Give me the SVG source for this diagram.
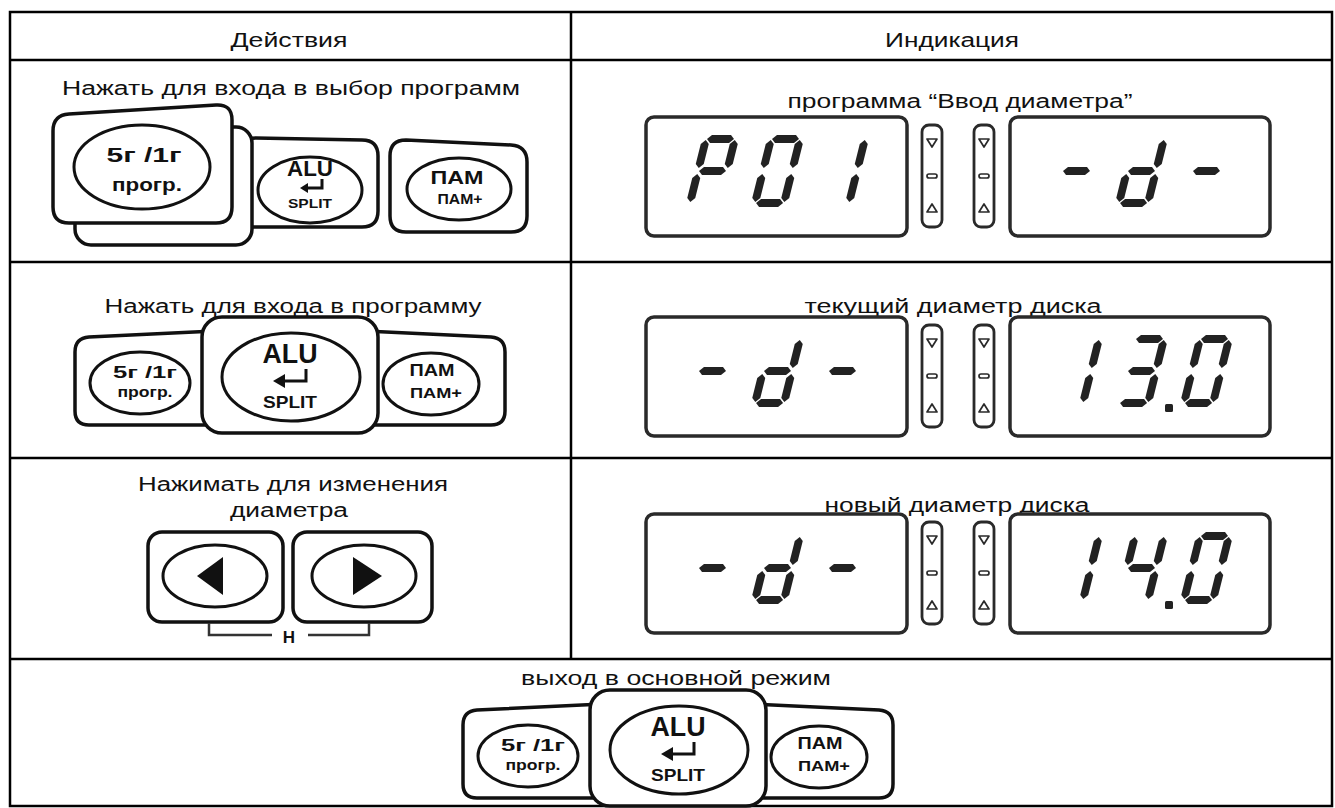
<svg xmlns="http://www.w3.org/2000/svg" width="1335" height="808" viewBox="0 0 1335 808">
<style>
.grid{fill:none;stroke:#000;stroke-width:2.5}
.bt{fill:#fff;stroke:#111;stroke-width:3.5;stroke-linejoin:round}
.el{fill:#fff;stroke:#111;stroke-width:3}
.bl{font-family:"Liberation Sans",Arial,sans-serif;font-weight:bold;fill:#111;text-anchor:middle}
.tx{font-family:"Liberation Sans",Arial,sans-serif;font-size:20px;fill:#111;text-anchor:middle}
.lcd{fill:#fff;stroke:#2a2a2a;stroke-width:3.5}
.seg{fill:#222}
.ind{fill:#fff;stroke:#2a2a2a;stroke-width:2.8}
.tri{fill:none;stroke:#2a2a2a;stroke-width:1.7;stroke-linejoin:round}
.arr{fill:none;stroke:#111;stroke-width:3}
.brk{fill:none;stroke:#333;stroke-width:2.5}
</style>
<defs>
<polygon id="sa" points="5,4 9,0 28,0 32,4 28,8 9,8"/>
<polygon id="sg" points="5,36 9,32 28,32 32,36 28,40 9,40"/>
<polygon id="sd" points="5,68 9,64 28,64 32,68 28,72 9,72"/>
<polygon id="sf" points="4,5 8,9 8,29 4,33 0,29 0,9"/>
<polygon id="se" points="4,39 8,43 8,63 4,67 0,63 0,43"/>
<polygon id="sb" points="33,5 37,9 37,29 33,33 29,29 29,9"/>
<polygon id="sc" points="33,39 37,43 37,63 33,67 29,63 29,43"/>
<g id="dP" class="seg"><use href="#sa"/><use href="#sb"/><use href="#sf"/><use href="#sg"/><use href="#se"/></g>
<g id="d0" class="seg"><use href="#sa"/><use href="#sb"/><use href="#sc"/><use href="#sd"/><use href="#se"/><use href="#sf"/></g>
<g id="d1" class="seg"><use href="#sb"/><use href="#sc"/></g>
<g id="dd" class="seg"><use href="#sb"/><use href="#sc"/><use href="#sd"/><use href="#se"/><use href="#sg"/></g>
<g id="dm" class="seg"><use href="#sg"/></g>
<g id="d3" class="seg"><use href="#sa"/><use href="#sb"/><use href="#sc"/><use href="#sd"/><use href="#sg"/></g>
<g id="d4" class="seg"><use href="#sf"/><use href="#sg"/><use href="#sb"/><use href="#sc"/></g>
<g id="indic">
<rect class="ind" x="0" y="0" width="20" height="102" rx="7"/>
<polygon class="tri" points="5,14 15,14 10,22"/>
<rect x="5" y="49" width="10" height="4" rx="2" fill="none" stroke="#2a2a2a" stroke-width="1.7"/>
<polygon class="tri" points="10,79 5,87 15,87"/>
</g>
</defs>
<rect width="1335" height="808" fill="#fff"/>

<g id="table">
<rect class="grid" x="10" y="12" width="1322" height="794"/>
<line class="grid" x1="10" y1="60" x2="1332" y2="60"/>
<line class="grid" x1="10" y1="262" x2="1332" y2="262"/>
<line class="grid" x1="10" y1="458" x2="1332" y2="458"/>
<line class="grid" x1="10" y1="659" x2="1332" y2="659"/>
<line class="grid" x1="571" y1="12" x2="571" y2="659"/>
<text class="tx" x="289" y="47" textLength="117" lengthAdjust="spacingAndGlyphs">Действия</text>
<text class="tx" x="952" y="47" textLength="134" lengthAdjust="spacingAndGlyphs">Индикация</text>
<text class="tx" x="291" y="95" textLength="458" lengthAdjust="spacingAndGlyphs">Нажать для входа в выбор программ</text>
<text class="tx" x="960" y="108" textLength="345" lengthAdjust="spacingAndGlyphs">программа “Ввод диаметра”</text>
<text class="tx" x="293" y="313" textLength="377" lengthAdjust="spacingAndGlyphs">Нажать для входа в программу</text>
<text class="tx" x="953" y="313" textLength="297" lengthAdjust="spacingAndGlyphs">текущий диаметр диска</text>
<text class="tx" x="293" y="491" textLength="310" lengthAdjust="spacingAndGlyphs">Нажимать для изменения</text>
<text class="tx" x="289" y="517" textLength="118" lengthAdjust="spacingAndGlyphs">диаметра</text>
<text class="tx" x="957" y="512" textLength="265" lengthAdjust="spacingAndGlyphs">новый диаметр диска</text>
<text class="tx" x="676" y="685" textLength="310" lengthAdjust="spacingAndGlyphs">выход в основной режим</text>
</g>

<g id="keys1">
<path class="bt" d="M240,154 Q240,138 256,138 L362,140 Q378,140 378,156 V211 Q378,227 362,227 H240 Z"/>
<ellipse class="el" cx="310" cy="190" rx="52" ry="33"/>
<text class="bl" x="310" y="176" font-size="22" textLength="46" lengthAdjust="spacingAndGlyphs">ALU</text>
<path class="arr" d="M322,179 V188 H307"/>
<polygon points="300,188 308,183 308,193" fill="#111"/>
<text class="bl" x="310" y="208" font-size="13" textLength="44" lengthAdjust="spacingAndGlyphs">SPLIT</text>
<path class="bt" d="M390,156 Q390,140 406,140 L511,145 Q527,146 527,162 V216 Q527,232 511,232 H406 Q390,232 390,216 Z"/>
<ellipse class="el" cx="459" cy="189" rx="52" ry="31"/>
<text class="bl" x="457" y="184" font-size="19" textLength="53" lengthAdjust="spacingAndGlyphs">ПАМ</text>
<text class="bl" x="460" y="204" font-size="14.5" textLength="45" lengthAdjust="spacingAndGlyphs">ПАМ+</text>
<rect class="bt" x="75" y="127" width="177" height="118" rx="16"/>
<path class="bt" d="M53,131 Q53,115 69,114 L216,105 Q232,104 232,120 V207 Q232,223 216,223 H69 Q53,223 53,207 Z"/>
<ellipse class="el" cx="142" cy="167" rx="68" ry="42"/>
<text class="bl" x="144" y="162" font-size="21" textLength="75" lengthAdjust="spacingAndGlyphs">5г /1г</text>
<text class="bl" x="147" y="191" font-size="19" textLength="70" lengthAdjust="spacingAndGlyphs">прогр.</text>
</g>

<g id="keys2">
<path class="bt" d="M75,352 Q75,338 89,337 L215,331 V425 H89 Q75,425 75,411 Z"/>
<ellipse class="el" cx="140" cy="383" rx="50" ry="31"/>
<text class="bl" x="145" y="378" font-size="17" textLength="64" lengthAdjust="spacingAndGlyphs">5г /1г</text>
<text class="bl" x="145" y="397" font-size="14" textLength="55" lengthAdjust="spacingAndGlyphs">прогр.</text>
<path class="bt" d="M365,331 L491,337 Q505,338 505,352 V411 Q505,425 491,425 H365 Z"/>
<ellipse class="el" cx="431" cy="384" rx="48" ry="31"/>
<text class="bl" x="432" y="376" font-size="17" textLength="45" lengthAdjust="spacingAndGlyphs">ПАМ</text>
<text class="bl" x="436" y="398" font-size="14" textLength="52" lengthAdjust="spacingAndGlyphs">ПАМ+</text>
<rect class="bt" x="202" y="317" width="176" height="116" rx="20" stroke-width="4"/>
<ellipse class="el" cx="291" cy="377" rx="69" ry="44" stroke-width="3.5"/>
<text class="bl" x="290" y="363" font-size="28" textLength="55" lengthAdjust="spacingAndGlyphs">ALU</text>
<path class="arr" d="M306,369 V381 H283" stroke-width="4"/>
<polygon points="273,381 285,374 285,388" fill="#111"/>
<text class="bl" x="290" y="408" font-size="17" textLength="54" lengthAdjust="spacingAndGlyphs">SPLIT</text>
</g>

<g id="keys3">
<rect class="bt" x="148" y="532" width="135" height="90" rx="14"/>
<ellipse class="el" cx="215" cy="576" rx="52" ry="31"/>
<polygon points="197,576 223,557 223,595" fill="#111"/>
<rect class="bt" x="293" y="532" width="139" height="90" rx="14"/>
<ellipse class="el" cx="364" cy="576" rx="52" ry="31"/>
<polygon points="353,557 353,595 382,576" fill="#111"/>
</g>

<g id="connectors">
<path class="brk" d="M209,623 V635 H272 M308,635 H369 V623"/>
<text class="bl" x="289" y="643" font-size="17" fill="#333">H</text>
</g>

<g id="keys4" transform="translate(388,373)">
<path class="bt" d="M75,352 Q75,338 89,337 L215,331 V425 H89 Q75,425 75,411 Z"/>
<ellipse class="el" cx="140" cy="383" rx="50" ry="31"/>
<text class="bl" x="145" y="378" font-size="17" textLength="64" lengthAdjust="spacingAndGlyphs">5г /1г</text>
<text class="bl" x="145" y="397" font-size="14" textLength="55" lengthAdjust="spacingAndGlyphs">прогр.</text>
<path class="bt" d="M365,331 L491,337 Q505,338 505,352 V411 Q505,425 491,425 H365 Z"/>
<ellipse class="el" cx="431" cy="384" rx="48" ry="31"/>
<text class="bl" x="432" y="376" font-size="17" textLength="45" lengthAdjust="spacingAndGlyphs">ПАМ</text>
<text class="bl" x="436" y="398" font-size="14" textLength="52" lengthAdjust="spacingAndGlyphs">ПАМ+</text>
<rect class="bt" x="202" y="317" width="176" height="116" rx="20" stroke-width="4"/>
<ellipse class="el" cx="291" cy="377" rx="69" ry="44" stroke-width="3.5"/>
<text class="bl" x="290" y="363" font-size="28" textLength="55" lengthAdjust="spacingAndGlyphs">ALU</text>
<path class="arr" d="M306,369 V381 H283" stroke-width="4"/>
<polygon points="273,381 285,374 285,388" fill="#111"/>
<text class="bl" x="290" y="408" font-size="17" textLength="54" lengthAdjust="spacingAndGlyphs">SPLIT</text>
</g>

<g id="display1">
<rect class="lcd" x="646" y="117" width="261" height="119" rx="8"/>
<use href="#dP" transform="translate(703,135) skewX(-14)"/>
<use href="#d0" transform="translate(768,135) skewX(-14)"/>
<use href="#d1" transform="translate(833,135) skewX(-14)"/>
<use href="#indic" x="922" y="125"/>
<use href="#indic" x="974" y="125"/>
<rect class="lcd" x="1010" y="117" width="260" height="119" rx="8"/>
<use href="#dm" transform="translate(1067,135) skewX(-14)"/>
<use href="#dd" transform="translate(1132,135) skewX(-14)"/>
<use href="#dm" transform="translate(1197,135) skewX(-14)"/>
</g>

<g id="display2">
<rect class="lcd" x="646" y="317" width="261" height="119" rx="8"/>
<use href="#dm" transform="translate(703,335) skewX(-14)"/>
<use href="#dd" transform="translate(768,335) skewX(-14)"/>
<use href="#dm" transform="translate(833,335) skewX(-14)"/>
<use href="#indic" x="922" y="325"/>
<use href="#indic" x="974" y="325"/>
<rect class="lcd" x="1010" y="317" width="260" height="119" rx="8"/>
<use href="#d1" transform="translate(1067,335) skewX(-14)"/>
<use href="#d3" transform="translate(1132,335) skewX(-14)"/>
<rect class="seg" x="1165" y="404" width="8" height="8" rx="1.5"/>
<use href="#d0" transform="translate(1197,335) skewX(-14)"/>
</g>

<g id="display3">
<rect class="lcd" x="646" y="514" width="261" height="119" rx="8"/>
<use href="#dm" transform="translate(703,532) skewX(-14)"/>
<use href="#dd" transform="translate(768,532) skewX(-14)"/>
<use href="#dm" transform="translate(833,532) skewX(-14)"/>
<use href="#indic" x="922" y="522"/>
<use href="#indic" x="974" y="522"/>
<rect class="lcd" x="1010" y="514" width="260" height="119" rx="8"/>
<use href="#d1" transform="translate(1067,532) skewX(-14)"/>
<use href="#d4" transform="translate(1132,532) skewX(-14)"/>
<rect class="seg" x="1165" y="601" width="8" height="8" rx="1.5"/>
<use href="#d0" transform="translate(1197,532) skewX(-14)"/>
</g>
</svg>
